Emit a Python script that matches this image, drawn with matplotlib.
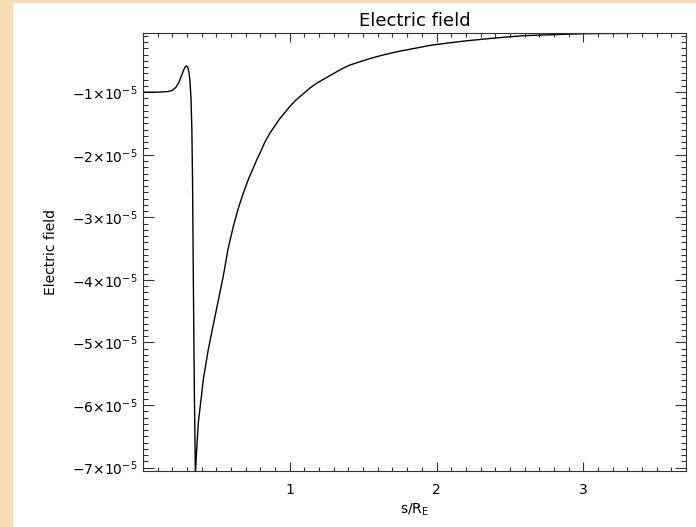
import matplotlib
matplotlib.use('Agg')
import matplotlib.pyplot as plt
from matplotlib.patches import Rectangle
from matplotlib.ticker import FixedLocator, MultipleLocator, FuncFormatter

# values (s/R_E, field in units of 1e-5)
s = [0.0, 0.10, 0.17, 0.20, 0.225, 0.245, 0.265, 0.28, 0.29, 0.297, 0.305,
     0.313, 0.32, 0.327, 0.333, 0.338, 0.343, 0.350, 0.357, 0.366, 0.377,
     0.395, 0.411, 0.445, 0.47, 0.491, 0.52, 0.547, 0.58, 0.616, 0.65, 0.684,
     0.72, 0.75, 0.775, 0.798, 0.83, 0.866, 0.93, 1.0, 1.04, 1.09, 1.14,
     1.184, 1.24, 1.30, 1.36, 1.411, 1.47, 1.55, 1.62, 1.684, 1.76, 1.85,
     1.96, 2.093, 2.2, 2.35, 2.47, 2.59, 2.8, 3.0, 3.3, 3.7]
e = [-1.00, -1.00, -0.99, -0.97, -0.92, -0.84, -0.72, -0.63, -0.59, -0.58,
     -0.60, -0.68, -0.82, -1.10, -1.6, -2.5, -4.0, -5.8, -7.1, -6.70, -6.28,
     -5.92, -5.59, -5.11, -4.82, -4.58, -4.25, -3.94, -3.5, -3.14, -2.85,
     -2.61, -2.38, -2.22, -2.08, -1.97, -1.80, -1.65, -1.43, -1.23, -1.13,
     -1.03, -0.93, -0.856, -0.78, -0.70, -0.62, -0.565, -0.52, -0.46, -0.415,
     -0.378, -0.34, -0.30, -0.25, -0.21, -0.18, -0.145, -0.12, -0.097, -0.08,
     -0.065, -0.06, -0.054]
e = [v * 1e-5 for v in e]

yticks = [-7e-5, -6e-5, -5e-5, -4e-5, -3e-5, -2e-5, -1e-5]
xticks = [1, 2, 3]

W, H = 696, 527
fig = plt.figure(figsize=(W / 100, H / 100), dpi=100)
fig.patch.set_facecolor('#f5deb3')
fig.patches.append(Rectangle((13 / W, 0), 1, (H - 3) / H, transform=fig.transFigure,
                             facecolor='white', edgecolor='none', zorder=-10))

ax = fig.add_axes([143 / W, 1 - 470.7 / H, (686 - 143) / W, (470.7 - 33) / H])
ax.plot(s, e, color='black', lw=1.0)
ax.set_xlim(0, 3.7)
ax.set_ylim(-7.05e-5, -0.054e-5)

ax.xaxis.set_major_locator(FixedLocator(xticks))
ax.xaxis.set_minor_locator(MultipleLocator(0.1))
ax.yaxis.set_major_locator(FixedLocator(yticks))
ax.yaxis.set_minor_locator(MultipleLocator(1e-6))


def fmt(v, pos):
    n = int(round(v / 1e-5))
    return r'$%d{\times}10^{-5}$' % n if n != 0 else '0'


ax.yaxis.set_major_formatter(FuncFormatter(fmt))
ax.xaxis.set_major_formatter(FuncFormatter(lambda v, p: '%d' % v))

ax.tick_params(axis='both', which='both', direction='in', top=True, right=True,
               width=0.8, color='#333333', labelsize=10)
ax.tick_params(axis='x', which='major', length=6.3, pad=9)
ax.tick_params(axis='x', which='minor', length=3.1)
ax.tick_params(axis='y', which='major', length=7.8, pad=4)
ax.tick_params(axis='y', which='minor', length=3.9)
for sp in ax.spines.values():
    sp.set_linewidth(0.8)
    sp.set_color('#333333')

ax.set_title('Electric field', fontsize=13, pad=5)
ax.set_xlabel(r'$\mathregular{s/R_E}$', fontsize=10, labelpad=3)
ax.set_ylabel('Electric field', fontsize=10, labelpad=10)

fig.savefig('out.png', dpi=100, facecolor=fig.get_facecolor())
